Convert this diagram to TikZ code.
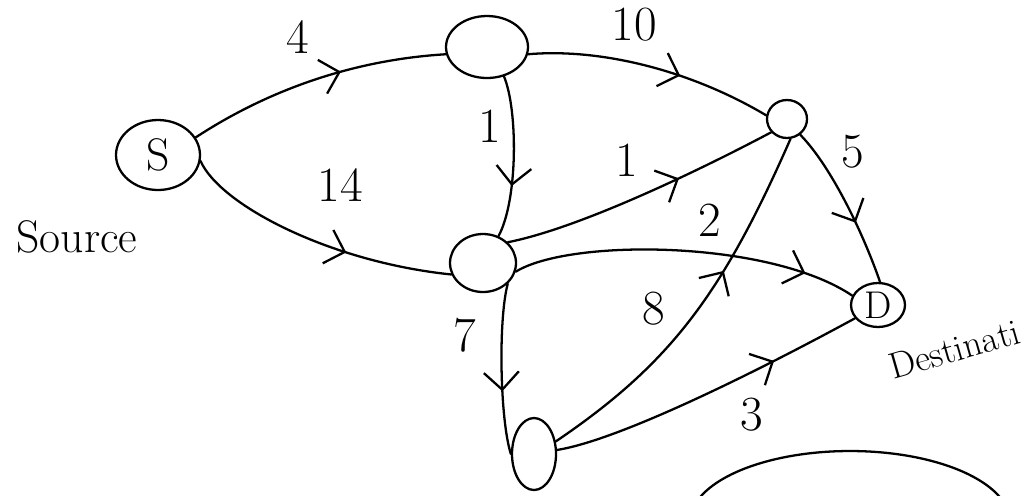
\documentclass[tikz,border=0pt]{standalone}
\usepackage{fontspec}
\usepackage{tikz}
\usetikzlibrary{shapes.geometric,arrows.meta,decorations.markings}

\begin{document}
\begin{tikzpicture}[x=0.02cm,y=-0.02cm,line width=1.3pt,line cap=round,
    vertex/.style={draw,ellipse,inner sep=0pt,font=\fontsize{26}{30}\selectfont},
    weight/.style={inner sep=0pt,font=\fontsize{28}{32}\selectfont},
    midarrow/.style={postaction={decorate},decoration={markings,
      mark=at position #1 with {\arrow{Straight Barb[length=3.5mm,width=7mm]}}}}]
    \useasboundingbox (0,0) rectangle (1027,495);
    \clip (0,0) rectangle (1027,495);

    \node[vertex,minimum width=1.68cm,minimum height=1.4cm] (S) at (158,155) {S};
    \node[vertex,minimum width=1.64cm,minimum height=1.24cm] (A) at (487,47) {};
    \node[vertex,minimum width=1.32cm,minimum height=1.16cm] (B) at (483,263) {};
    \node[vertex,minimum width=0.8cm,minimum height=0.76cm] (C) at (787,119) {};
    \node[vertex,minimum width=1.08cm,minimum height=0.88cm,font=\fontsize{22}{26}\selectfont] (D) at (878,305) {D};
    \node[vertex,minimum width=0.88cm,minimum height=1.44cm] (E) at (534,454) {};
    \node[vertex,minimum width=6.4cm,minimum height=2.84cm] (F) at (850,522) {};

    \node[font=\fontsize{26}{30}\selectfont] (src) at (77,237) {Source};
    \node[font=\fontsize{21}{25}\selectfont,rotate=16,anchor=base west,inner sep=0pt] (dst) at (892,380) {Destinati};

    \draw[midarrow=0.6] (S.25) .. controls (265,92) and (350,60) .. (A.190);
    \draw[midarrow=0.62] (S.-8) .. controls (220,205) and (330,262) .. (B.200);
    \draw[midarrow=0.62] (A.350) .. controls (600,48) and (690,70) .. (C.170);
    \draw[midarrow=0.68] (A.-60) .. controls (518,110) and (518,200) .. (B.60);
    \draw[midarrow=0.64] (B.40) .. controls (580,228) and (700,170) .. (C.220);
    \draw[midarrow=0.85] (B.-15) .. controls (570,238) and (770,240) .. (D.160);
    \draw[midarrow=0.62] (C.-50) .. controls (830,165) and (862,230) .. (D.85);
    \draw[midarrow=0.62] (E.30) .. controls (670,364) and (722,295) .. (C.-80);
    \draw[midarrow=0.72] (E.10) .. controls (620,440) and (760,370) .. (D.210);
    \draw[midarrow=0.63] (B.-40) .. controls (498,320) and (500,420) .. (E.180);

    \node[weight] (wsa) at (298,37) {4};
    \node[weight] (wsb) at (340,185) {14};
    \node[weight] (wac) at (634,25) {10};
    \node[weight] (wab) at (490,126) {1};
    \node[weight] (wbc) at (627,160) {1};
    \node[weight] (wbd) at (710,220) {2};
    \node[weight] (wcd) at (853,152) {5};
    \node[weight] (wec) at (654,309) {8};
    \node[weight] (wbe) at (465,335) {7};
    \node[weight] (wed) at (752,415) {3};
  \end{tikzpicture}
\end{document}
